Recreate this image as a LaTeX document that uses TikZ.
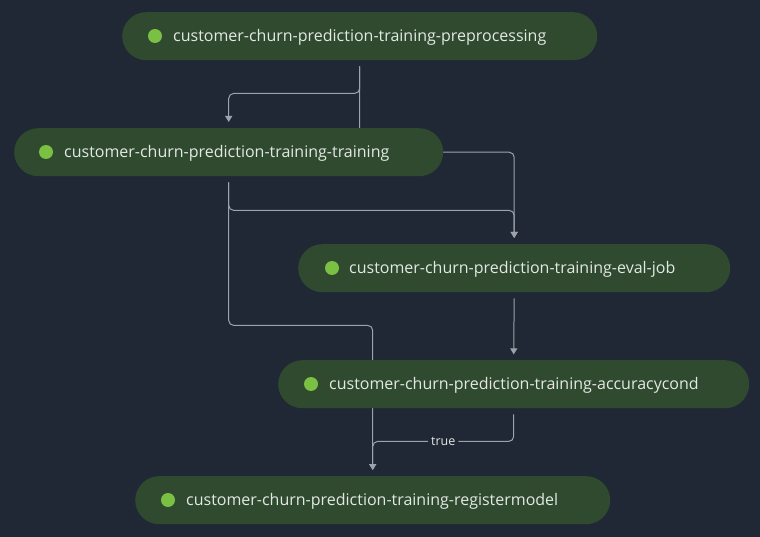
\documentclass[tikz,border=0pt]{standalone}
\usepackage{fontspec}
\setmainfont{Open Sans}
\usetikzlibrary{arrows.meta,calc}
\definecolor{bgc}{HTML}{1F2834}
\definecolor{pillfill}{HTML}{2F4A2F}
\definecolor{dotg}{HTML}{7AC143}
\definecolor{txt}{HTML}{E4E8E4}
\definecolor{edgec}{HTML}{9CA3AB}
\pgfdeclarelayer{backdrop}
\pgfdeclarelayer{edges}
\pgfsetlayers{backdrop,edges,main}
\begin{document}
\begin{tikzpicture}[x=1pt,y=-1pt,
  pill/.style={draw=none,fill=pillfill,rounded corners=24pt,minimum height=48pt,inner sep=0pt,anchor=north west},
  stdot/.style={circle,fill=dotg,minimum size=14pt,inner sep=0pt},
  lbl/.style={text=txt,font=\fontsize{16}{18}\selectfont,anchor=west,inner sep=0pt,yshift=-1.5pt},
  conn/.style={draw=edgec,line width=1pt,rounded corners=5pt},
  arr/.style={conn,-{Triangle[width=7pt,length=6pt]}},
  truelbl/.style={fill=bgc,text=txt,font=\fontsize{12.5}{14}\selectfont,inner sep=3pt}]
\begin{pgfonlayer}{backdrop}
\fill[bgc] (0,0) rectangle (760,537);
\end{pgfonlayer}
\useasboundingbox (0,0) rectangle (760,537);

% nodes
\node[pill,minimum width=475pt] (prep) at (122,12) {};
\node[stdot] (prepD) at (155,36) {};
\node[lbl] (prepT) at (173,36) {customer-churn-prediction-training-preprocessing};

\node[pill,minimum width=429pt] (train) at (14,128) {};
\node[stdot] (trainD) at (46,152) {};
\node[lbl] (trainT) at (64,152) {customer-churn-prediction-training-training};

\node[pill,minimum width=432pt] (eval) at (298,244) {};
\node[stdot] (evalD) at (332,268) {};
\node[lbl] (evalT) at (349,268) {customer-churn-prediction-training-eval-job};

\node[pill,minimum width=471pt] (acc) at (278,360) {};
\node[stdot] (accD) at (311,384) {};
\node[lbl] (accT) at (329,384) {customer-churn-prediction-training-accuracycond};

\node[pill,minimum width=475pt] (reg) at (135,476) {};
\node[stdot] (regD) at (168,500) {};
\node[lbl] (regT) at (186,500) {customer-churn-prediction-training-registermodel};

% connectors
\begin{pgfonlayer}{edges}
\draw[arr] ($(prep.south)+(0,6)$) -- ($(prep.south)+(0,33)$) -| ($(train.north)+(0,-6)$);
\draw[arr] ($(prep.south)+(0,6)$) |- (eval.north |- train.center) -- ($(eval.north)+(0,-6)$);
\draw[arr] ($(train.south)+(0,6)$) -- ($(train.south)+(0,34)$) -| ($(eval.north)+(0,-6)$);
\draw[arr] ($(train.south)+(0,6)$) -- ($(train.south)+(0,149)$) -| ($(reg.north)+(0,-6)$);
\draw[arr] ($(eval.south)+(0,6)$) -- ($(acc.north |- eval.south)+(0,62)$);
\draw[arr] ($(acc.south)+(0,6)$) -- ($(acc.south)+(0,33)$) -| node[pos=0.25,truelbl] (trueL) {true} ($(reg.north)+(0,-6)$);
\end{pgfonlayer}
\end{tikzpicture}
\end{document}
